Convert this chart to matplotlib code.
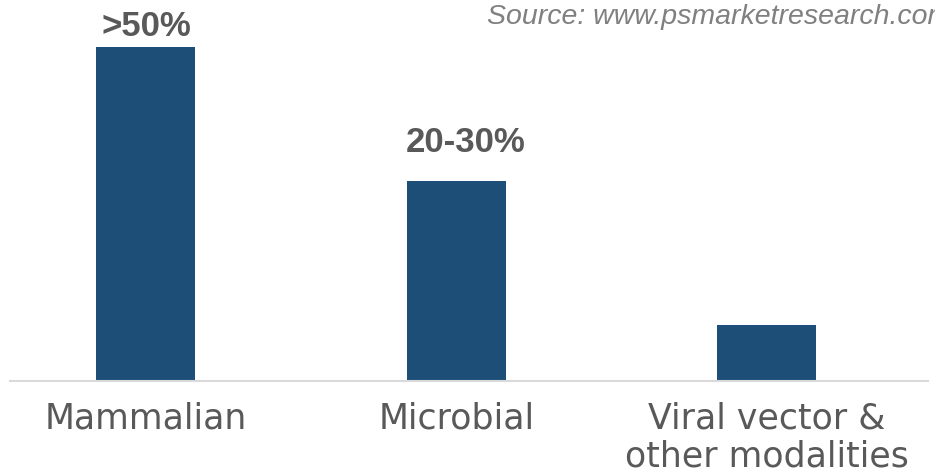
import matplotlib
matplotlib.use('Agg')
import matplotlib.pyplot as plt

# ------------------------------------------------------ #
# Data
# ------------------------------------------------------ #
categories = ['Mammalian', 'Microbial', 'Viral vector &\nother modalities']
share = [55, 33, 9.2]
value_labels = ['>50%', '20-30%', '']
label_offsets = [(0, 3), (7, 16), (0, 0)]  # points, relative to bar top
source_text = 'Source: www.psmarketresearch.com'

# ------------------------------------------------------ #
# Plot
# ------------------------------------------------------ #
fig = plt.figure(figsize=(9.35, 4.76), dpi=100)
ax = fig.add_axes([10 / 935, 95 / 476, 918 / 935, 381 / 476])

x = list(range(len(categories)))
ax.bar(x, share, width=0.319, color='#1c4e77')

for xi, val, lab, off in zip(x, share, value_labels, label_offsets):
    if lab:
        ax.annotate(lab, (xi, val), xytext=off, textcoords='offset points',
                    ha='center', va='bottom', fontsize=25, fontweight='bold',
                    family='Liberation Sans', color='#595959')

ax.set_xlim(-0.438, 2.52)
ax.set_ylim(0, 62.8)
ax.set_xticks(x)
ax.set_xticklabels(categories, fontsize=25, color='#595959',
                   family='DejaVu Sans', linespacing=1.15)
ax.tick_params(axis='x', length=0, pad=15)
ax.set_yticks([])
for s in ['top', 'left', 'right']:
    ax.spines[s].set_visible(False)
ax.spines['bottom'].set_color('#d9d9d9')
ax.spines['bottom'].set_linewidth(1.5)

fig.text(487 / 935, 1 - 4 / 476, source_text, ha='left', va='top',
         fontsize=20.5, style='italic', family='Liberation Sans',
         color='#808080')

fig.savefig('out.png', dpi=100)
